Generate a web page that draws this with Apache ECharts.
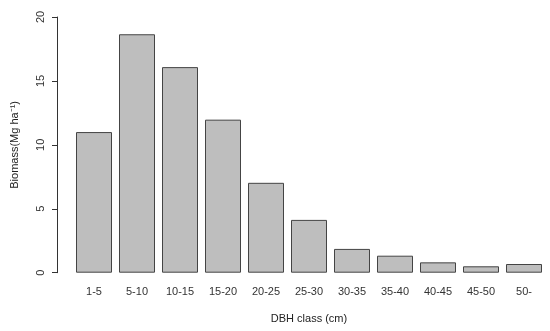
<!DOCTYPE html>
<html><head><meta charset="utf-8">
<script src="https://cdn.jsdelivr.net/npm/echarts@6/dist/echarts.min.js"></script>
<style>html,body{margin:0;padding:0;background:#fff}#c{width:550px;height:331px}</style>
</head><body><div id="c"></div>
<script>
var categories = ['1-5','5-10','10-15','15-20','20-25','25-30','30-35','35-40','40-45','45-50','50-'];
var biomass = [11.0, 18.65, 16.08, 11.97, 7.03, 4.13, 1.86, 1.33, 0.81, 0.5, 0.68];
var yTicks = [0, 5, 10, 15, 20];
var font = 'Liberation Sans, Arial, sans-serif';
var chart = echarts.init(document.getElementById('c'), null, {renderer: 'canvas'});
chart.setOption({
  animation: false,
  backgroundColor: '#fff',
  grid: {left: 72.5, right: 4.5, top: 17, bottom: 58.3, containLabel: false},
  xAxis: {
    type: 'category', data: categories,
    axisLine: {show: false}, axisTick: {show: false},
    axisLabel: {color: '#333', fontSize: 11, fontFamily: font, margin: 14, interval: 0},
    name: 'DBH class (cm)', nameLocation: 'middle', nameGap: 41,
    nameTextStyle: {color: '#222', fontSize: 11, fontFamily: font}
  },
  yAxis: {
    type: 'value', min: yTicks[0], max: yTicks[yTicks.length - 1], interval: 5,
    offset: 15.5,
    splitLine: {show: false},
    axisLine: {show: true, lineStyle: {color: '#333', width: 1}},
    axisTick: {show: true, length: 5, lineStyle: {color: '#333'}},
    axisLabel: {color: '#333', fontSize: 11, fontFamily: font, rotate: 90, margin: 11},
    name: 'Biomass(Mg ha\u207B\u00B9)', nameLocation: 'middle', nameGap: 37,
    nameTextStyle: {color: '#222', fontSize: 11, fontFamily: font}
  },
  series: [{
    type: 'bar', data: biomass, barWidth: 36,
    itemStyle: {color: '#bebebe', borderColor: '#444', borderWidth: 1}
  }]
});
</script></body></html>
